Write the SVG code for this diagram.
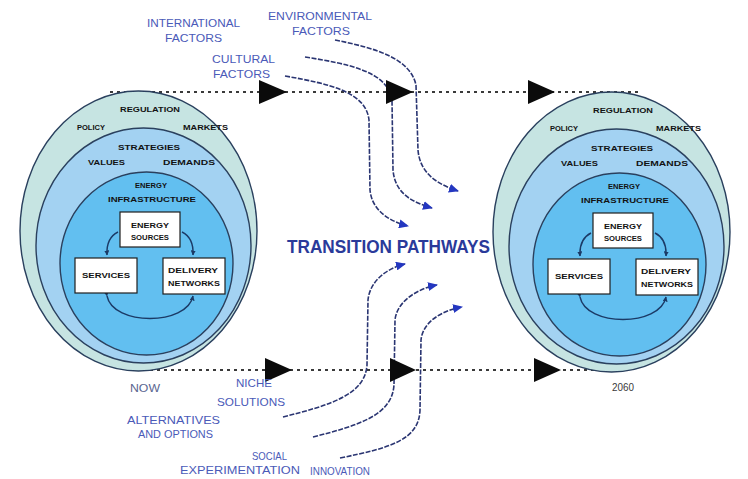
<svg xmlns="http://www.w3.org/2000/svg" width="748" height="479" viewBox="0 0 748 479">
<style>
.ring{stroke:#2a405e;stroke-width:1.4}
.r1{fill:#c6e4e2}
.r2{fill:#a3d2f2}
.r3{fill:#62bff0}
.box{fill:#ffffff;stroke:#1e1e1e;stroke-width:1.2}
.ct{font-family:"Liberation Sans",Arial,sans-serif;font-weight:bold;font-size:7.5px;fill:#121212}
.lbl{font-family:"Liberation Sans",Arial,sans-serif;font-size:11px;fill:#4a5ab8}
.cyc{fill:none;stroke:#1b3a66;stroke-width:1.4}
.tl{fill:none;stroke:#3a3a3a;stroke-width:2;stroke-dasharray:3 4}
.tri{fill:#0b0b0b}
.cv{fill:none;stroke:#2a3572;stroke-width:1.6;stroke-dasharray:5 1.5}
</style>
<defs>
<marker id="ah" markerWidth="10" markerHeight="9" refX="9" refY="4.5" orient="auto" markerUnits="userSpaceOnUse">
<path d="M0,0 L10,4.5 L0,9 Z" fill="#2437c0"/>
</marker>
<marker id="sh" markerWidth="5" markerHeight="5" refX="4.5" refY="2.5" orient="auto" markerUnits="userSpaceOnUse">
<path d="M0,0 L5,2.5 L0,5 Z" fill="#1b3a66"/>
</marker>
</defs>
<rect width="748" height="479" fill="#ffffff"/>

<g id="connectors">
<line class="tl" x1="110" y1="92" x2="640" y2="92"/>
<line class="tl" x1="150" y1="370" x2="600" y2="370"/>
<path class="cv" d="M335,40 C375,48 410,58 416,85 L418,150 C420,175 440,185 458,191" marker-end="url(#ah)"/>
<path class="cv" d="M305,57 C350,64 388,72 392,100 L393,170 C395,195 415,203 432,208" marker-end="url(#ah)"/>
<path class="cv" d="M285,76 C330,84 366,92 369,120 L370,190 C372,212 392,222 408,226" marker-end="url(#ah)"/>
<path class="cv" d="M283,417 C330,405 365,395 367,365 L368,300 C370,280 388,268 405,264" marker-end="url(#ah)"/>
<path class="cv" d="M313,437 C360,425 392,415 394,385 L395,320 C397,300 420,288 437,285" marker-end="url(#ah)"/>
<path class="cv" d="M340,458 C390,448 419,440 420,410 L421,340 C423,320 445,310 462,307" marker-end="url(#ah)"/>
<polygon class="tri" points="259,80 287,92 259,104"/>
<polygon class="tri" points="386,80 413,92 386,104"/>
<polygon class="tri" points="528,80 555,92 528,104"/>
<polygon class="tri" points="265,358 292,370 265,382"/>
<polygon class="tri" points="390,358 416,370 390,382"/>
<polygon class="tri" points="534,358 561,370 534,382"/>
</g>

<g id="system-now">
<ellipse class="ring r1" cx="138.5" cy="231" rx="118.5" ry="140"/>
<ellipse class="ring r2" cx="143.5" cy="245.5" rx="107.5" ry="117.5"/>
<ellipse class="ring r3" cx="146.5" cy="263.5" rx="86.5" ry="91.5"/>
<text class="ct" x="120" y="112" textLength="60" lengthAdjust="spacingAndGlyphs">REGULATION</text>
<text class="ct" x="77" y="130" textLength="28" lengthAdjust="spacingAndGlyphs">POLICY</text>
<text class="ct" x="183" y="130" textLength="45" lengthAdjust="spacingAndGlyphs">MARKETS</text>
<text class="ct" x="118" y="150" textLength="62" lengthAdjust="spacingAndGlyphs">STRATEGIES</text>
<text class="ct" x="88" y="165" textLength="37" lengthAdjust="spacingAndGlyphs">VALUES</text>
<text class="ct" x="163" y="165" textLength="52" lengthAdjust="spacingAndGlyphs">DEMANDS</text>
<text class="ct" x="135" y="188" textLength="32" lengthAdjust="spacingAndGlyphs">ENERGY</text>
<text class="ct" x="108" y="202" textLength="88" lengthAdjust="spacingAndGlyphs">INFRASTRUCTURE</text>
<path class="cyc" d="M118,232 Q106,238 107,255" marker-end="url(#sh)"/>
<path class="cyc" d="M182,232 Q194,238 193,255" marker-end="url(#sh)"/>
<path class="cyc" d="M107,296 C113,326 187,326 193,296" marker-start="url(#sh)" marker-end="url(#sh)"/>
<g id="now-energy-sources">
<rect class="box" x="120" y="212" width="60" height="35"/>
<text class="ct" x="131" y="228" textLength="38" lengthAdjust="spacingAndGlyphs">ENERGY</text>
<text class="ct" x="131" y="240" textLength="38" lengthAdjust="spacingAndGlyphs">SOURCES</text>
</g>
<g id="now-services">
<rect class="box" x="75" y="258" width="62" height="35"/>
<text class="ct" x="82" y="278" textLength="48" lengthAdjust="spacingAndGlyphs">SERVICES</text>
</g>
<g id="now-delivery-networks">
<rect class="box" x="163" y="258" width="62" height="36"/>
<text class="ct" x="168" y="273" textLength="50" lengthAdjust="spacingAndGlyphs">DELIVERY</text>
<text class="ct" x="168" y="286" textLength="52" lengthAdjust="spacingAndGlyphs">NETWORKS</text>
</g>
</g>

<g id="system-2060" transform="translate(473,1)">
<ellipse class="ring r1" cx="138.5" cy="231" rx="118.5" ry="140"/>
<ellipse class="ring r2" cx="143.5" cy="245.5" rx="107.5" ry="117.5"/>
<ellipse class="ring r3" cx="146.5" cy="263.5" rx="86.5" ry="91.5"/>
<text class="ct" x="120" y="112" textLength="60" lengthAdjust="spacingAndGlyphs">REGULATION</text>
<text class="ct" x="77" y="130" textLength="28" lengthAdjust="spacingAndGlyphs">POLICY</text>
<text class="ct" x="183" y="130" textLength="45" lengthAdjust="spacingAndGlyphs">MARKETS</text>
<text class="ct" x="118" y="150" textLength="62" lengthAdjust="spacingAndGlyphs">STRATEGIES</text>
<text class="ct" x="88" y="165" textLength="37" lengthAdjust="spacingAndGlyphs">VALUES</text>
<text class="ct" x="163" y="165" textLength="52" lengthAdjust="spacingAndGlyphs">DEMANDS</text>
<text class="ct" x="135" y="188" textLength="32" lengthAdjust="spacingAndGlyphs">ENERGY</text>
<text class="ct" x="108" y="202" textLength="88" lengthAdjust="spacingAndGlyphs">INFRASTRUCTURE</text>
<path class="cyc" d="M118,232 Q106,238 107,255" marker-end="url(#sh)"/>
<path class="cyc" d="M182,232 Q194,238 193,255" marker-end="url(#sh)"/>
<path class="cyc" d="M107,296 C113,326 187,326 193,296" marker-start="url(#sh)" marker-end="url(#sh)"/>
<g id="future-energy-sources">
<rect class="box" x="120" y="212" width="60" height="35"/>
<text class="ct" x="131" y="228" textLength="38" lengthAdjust="spacingAndGlyphs">ENERGY</text>
<text class="ct" x="131" y="240" textLength="38" lengthAdjust="spacingAndGlyphs">SOURCES</text>
</g>
<g id="future-services">
<rect class="box" x="75" y="258" width="62" height="35"/>
<text class="ct" x="82" y="278" textLength="48" lengthAdjust="spacingAndGlyphs">SERVICES</text>
</g>
<g id="future-delivery-networks">
<rect class="box" x="163" y="258" width="62" height="36"/>
<text class="ct" x="168" y="273" textLength="50" lengthAdjust="spacingAndGlyphs">DELIVERY</text>
<text class="ct" x="168" y="286" textLength="52" lengthAdjust="spacingAndGlyphs">NETWORKS</text>
</g>
</g>

<g id="title">
<text x="287" y="253" textLength="203" lengthAdjust="spacingAndGlyphs" style="font-family:'Liberation Sans',Arial,sans-serif;font-weight:bold;font-size:19px;fill:#2a3a9a">TRANSITION PATHWAYS</text>
</g>

<g id="label-international">
<text class="lbl" x="147" y="27" textLength="93" lengthAdjust="spacingAndGlyphs">INTERNATIONAL</text>
<text class="lbl" x="165" y="42" textLength="57" lengthAdjust="spacingAndGlyphs">FACTORS</text>
</g>
<g id="label-environmental">
<text class="lbl" x="268" y="20" textLength="104" lengthAdjust="spacingAndGlyphs">ENVIRONMENTAL</text>
<text class="lbl" x="292" y="35" textLength="58" lengthAdjust="spacingAndGlyphs">FACTORS</text>
</g>
<g id="label-cultural">
<text class="lbl" x="212" y="63" textLength="63" lengthAdjust="spacingAndGlyphs">CULTURAL</text>
<text class="lbl" x="213" y="78" textLength="57" lengthAdjust="spacingAndGlyphs">FACTORS</text>
</g>
<g id="label-now">
<text class="lbl" x="130" y="392" textLength="30" lengthAdjust="spacingAndGlyphs" style="fill:#5a6690">NOW</text>
</g>
<g id="label-2060">
<text class="lbl" x="612" y="391" textLength="22" lengthAdjust="spacingAndGlyphs" style="fill:#3a3a3a">2060</text>
</g>
<g id="label-niche">
<text class="lbl" x="236" y="387" textLength="36" lengthAdjust="spacingAndGlyphs">NICHE</text>
<text class="lbl" x="217" y="406" textLength="68" lengthAdjust="spacingAndGlyphs">SOLUTIONS</text>
</g>
<g id="label-alternatives">
<text class="lbl" x="127" y="424" textLength="93" lengthAdjust="spacingAndGlyphs">ALTERNATIVES</text>
<text class="lbl" x="138" y="438" textLength="75" lengthAdjust="spacingAndGlyphs">AND OPTIONS</text>
</g>
<g id="label-social">
<text class="lbl" x="252" y="460" textLength="35" lengthAdjust="spacingAndGlyphs">SOCIAL</text>
<text class="lbl" x="180" y="474" textLength="120" lengthAdjust="spacingAndGlyphs">EXPERIMENTATION</text>
</g>
<g id="label-innovation">
<text class="lbl" x="310" y="475" textLength="60" lengthAdjust="spacingAndGlyphs">INNOVATION</text>
</g>
</svg>
